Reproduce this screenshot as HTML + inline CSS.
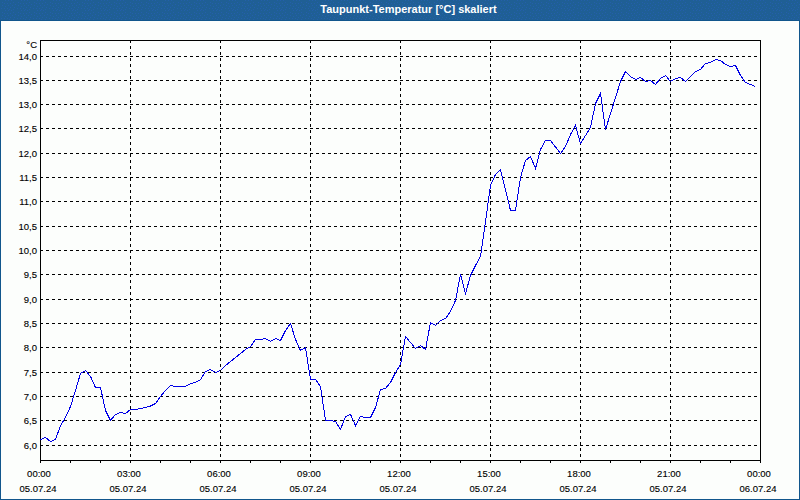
<!DOCTYPE html>
<html><head><meta charset="utf-8"><style>
html,body{margin:0;padding:0;width:800px;height:500px;overflow:hidden;background:#fcfefc;}
body{position:relative;font-family:"Liberation Sans",sans-serif;}
svg{position:absolute;left:0;top:0;}
.t{position:absolute;left:0;top:2px;width:817px;text-align:center;color:#fff;font-weight:bold;font-size:11px;line-height:14px;white-space:nowrap;}
.yl{position:absolute;left:0;width:37px;text-align:right;font-size:9.5px;line-height:14px;color:#000;white-space:nowrap;-webkit-text-stroke:0.12px #000;}
.xl{position:absolute;width:80px;text-align:center;font-size:9.5px;line-height:14px;color:#000;white-space:nowrap;-webkit-text-stroke:0.12px #000;}
</style></head><body>
<svg width="800" height="500" viewBox="0 0 800 500">
<defs><pattern id="dp" x="0" y="0" width="16" height="10" patternUnits="userSpaceOnUse"><rect width="16" height="10" fill="#1f5f95"/><rect x="5" y="0" width="1" height="1" fill="#245fab"/><rect x="8" y="0" width="1" height="1" fill="#245fab"/><rect x="11" y="0" width="1" height="1" fill="#245fab"/><rect x="2" y="2" width="1" height="1" fill="#245fab"/><rect x="13" y="2" width="1" height="1" fill="#245fab"/><rect x="4" y="3" width="1" height="1" fill="#245fab"/><rect x="7" y="3" width="1" height="1" fill="#245fab"/><rect x="10" y="3" width="1" height="1" fill="#245fab"/><rect x="15" y="4" width="1" height="1" fill="#245fab"/><rect x="2" y="5" width="1" height="1" fill="#245fab"/><rect x="8" y="5" width="1" height="1" fill="#245fab"/><rect x="12" y="5" width="1" height="1" fill="#245fab"/><rect x="5" y="6" width="1" height="1" fill="#245fab"/><rect x="10" y="7" width="1" height="1" fill="#245fab"/><rect x="14" y="7" width="1" height="1" fill="#245fab"/><rect x="1" y="8" width="1" height="1" fill="#245fab"/><rect x="4" y="8" width="1" height="1" fill="#245fab"/><rect x="7" y="8" width="1" height="1" fill="#245fab"/><rect x="9" y="9" width="1" height="1" fill="#245fab"/><rect x="13" y="9" width="1" height="1" fill="#245fab"/></pattern></defs>
<rect x="0" y="0" width="800" height="21" fill="url(#dp)" shape-rendering="crispEdges"/>
<rect x="0" y="20" width="800" height="1" fill="#11568c"/>
<rect x="0" y="21" width="1" height="479" fill="#11568c"/>
<rect x="799" y="21" width="1" height="479" fill="#11568c"/>
<rect x="0" y="499" width="800" height="1" fill="#11568c"/>
<path d="M40 56.5H760 M40 80.5H760 M40 104.5H760 M40 128.5H760 M40 153.5H760 M40 177.5H760 M40 201.5H760 M40 226.5H760 M40 250.5H760 M40 274.5H760 M40 299.5H760 M40 323.5H760 M40 347.5H760 M40 372.5H760 M40 396.5H760 M40 420.5H760 M40 445.5H760 M130.5 40V460 M220.5 40V460 M310.5 40V460 M400.5 40V460 M490.5 40V460 M580.5 40V460 M670.5 40V460" stroke="#000" stroke-width="1" stroke-dasharray="3 3" fill="none" shape-rendering="crispEdges"/>
<path d="M40.5 40V460.5 M40 40.5H760.5 M760.5 40V461 M40 460.5H761" stroke="#000" stroke-width="1" fill="none" shape-rendering="crispEdges"/>
<path d="M40.5 461V463 M70.5 461V463 M100.5 461V463 M130.5 461V463 M160.5 461V463 M190.5 461V463 M220.5 461V463 M250.5 461V463 M280.5 461V463 M310.5 461V463 M340.5 461V463 M370.5 461V463 M400.5 461V463 M430.5 461V463 M460.5 461V463 M490.5 461V463 M520.5 461V463 M550.5 461V463 M580.5 461V463 M610.5 461V463 M640.5 461V463 M670.5 461V463 M700.5 461V463 M730.5 461V463 M760.5 461V463" stroke="#000" stroke-width="1" fill="none" shape-rendering="crispEdges"/>
<path d="M40.5 439.5 L45.5 437.5 L50.5 441.5 L55.5 439.5 L60.5 425.5 L65.5 417.5 L70.5 406.5 L75.5 390.5 L80.5 373.5 L85.5 370.5 L90.5 376.5 L95.5 387.5 L100.5 387.5 L105.5 410.5 L110.5 420.5 L115.5 414.5 L120.5 412.5 L125.5 413.5 L130.5 409.5 L135.5 409.5 L140.5 408.5 L145.5 407.5 L150.5 406.0 L155.5 403.5 L160.5 396.5 L165.5 390.5 L170.5 385.5 L175.5 386.5 L180.5 386.5 L185.5 386.5 L190.5 383.5 L195.5 382.5 L200.5 379.5 L205.5 371.5 L210.5 369.5 L215.5 372.5 L220.5 370.5 L225.5 365.5 L230.5 361.5 L235.5 357.5 L240.5 353.5 L245.5 349.5 L250.5 346.5 L255.5 339.5 L260.5 339.5 L265.5 338.5 L270.5 341.5 L275.5 338.5 L280.5 340.5 L285.5 330.5 L290.5 323.5 L295.5 339.5 L300.5 350.5 L305.5 347.5 L310.5 379.5 L315.5 379.5 L320.5 386.5 L325.5 420.5 L330.5 420.5 L335.5 421.5 L340.5 429.5 L345.5 416.5 L350.5 414.5 L355.5 425.5 L360.5 416.5 L365.5 417.5 L370.5 417.5 L375.5 407.5 L380.5 389.5 L385.5 388.5 L390.5 382.5 L395.5 372.5 L400.5 364.5 L405.5 336.5 L410.5 342.5 L415.5 348.5 L420.5 345.5 L425.5 349.5 L430.5 322.5 L435.5 325.5 L440.5 320.5 L445.5 318.5 L450.5 311.5 L455.5 300.5 L460.5 274.5 L465.5 293.5 L470.5 275.5 L475.5 265.5 L480.5 256.5 L485.5 221.5 L490.5 185.5 L495.5 174.5 L500.5 169.5 L505.5 190.0 L510.5 210.5 L515.5 210.5 L520.5 177.5 L525.5 160.5 L530.5 156.5 L535.5 168.5 L540.5 149.5 L545.5 140.5 L550.5 140.5 L555.5 147.0 L560.5 153.5 L565.5 146.5 L570.5 134.5 L575.5 125.5 L580.5 143.5 L585.5 135.5 L590.5 127.5 L595.5 103.5 L600.5 93.5 L605.5 129.5 L610.5 113.5 L615.5 97.5 L620.5 81.5 L625.5 71.5 L630.5 76.5 L635.5 79.5 L640.5 77.5 L645.5 81.5 L650.5 80.5 L655.5 84.5 L660.5 78.5 L665.5 75.5 L670.5 81.5 L675.5 78.5 L680.5 77.5 L685.5 81.5 L690.5 76.5 L695.5 71.5 L700.5 69.5 L705.5 63.5 L710.5 62.5 L715.5 59.5 L720.5 60.5 L725.5 64.5 L730.5 66.5 L735.5 65.5 L740.5 75.5 L745.5 82.5 L750.5 84.5 L755.5 86.5" stroke="#0000e6" stroke-width="1" fill="none" shape-rendering="crispEdges"/>
</svg>
<div class="t">Taupunkt-Temperatur [°C] skaliert</div>
<div class="yl" style="top:50px">14,0</div>
<div class="yl" style="top:74px">13,5</div>
<div class="yl" style="top:98px">13,0</div>
<div class="yl" style="top:122px">12,5</div>
<div class="yl" style="top:147px">12,0</div>
<div class="yl" style="top:171px">11,5</div>
<div class="yl" style="top:195px">11,0</div>
<div class="yl" style="top:220px">10,5</div>
<div class="yl" style="top:244px">10,0</div>
<div class="yl" style="top:268px">9,5</div>
<div class="yl" style="top:293px">9,0</div>
<div class="yl" style="top:317px">8,5</div>
<div class="yl" style="top:341px">8,0</div>
<div class="yl" style="top:366px">7,5</div>
<div class="yl" style="top:390px">7,0</div>
<div class="yl" style="top:414px">6,5</div>
<div class="yl" style="top:439px">6,0</div>
<div class="yl" style="top:38px">°C</div>
<div class="xl" style="left:-1px;top:467px">00:00</div>
<div class="xl" style="left:-2px;top:482px">05.07.24</div>
<div class="xl" style="left:89px;top:467px">03:00</div>
<div class="xl" style="left:88px;top:482px">05.07.24</div>
<div class="xl" style="left:179px;top:467px">06:00</div>
<div class="xl" style="left:178px;top:482px">05.07.24</div>
<div class="xl" style="left:269px;top:467px">09:00</div>
<div class="xl" style="left:268px;top:482px">05.07.24</div>
<div class="xl" style="left:359px;top:467px">12:00</div>
<div class="xl" style="left:358px;top:482px">05.07.24</div>
<div class="xl" style="left:449px;top:467px">15:00</div>
<div class="xl" style="left:448px;top:482px">05.07.24</div>
<div class="xl" style="left:539px;top:467px">18:00</div>
<div class="xl" style="left:538px;top:482px">05.07.24</div>
<div class="xl" style="left:629px;top:467px">21:00</div>
<div class="xl" style="left:628px;top:482px">05.07.24</div>
<div class="xl" style="left:719px;top:467px">00:00</div>
<div class="xl" style="left:718px;top:482px">06.07.24</div>
</body></html>
